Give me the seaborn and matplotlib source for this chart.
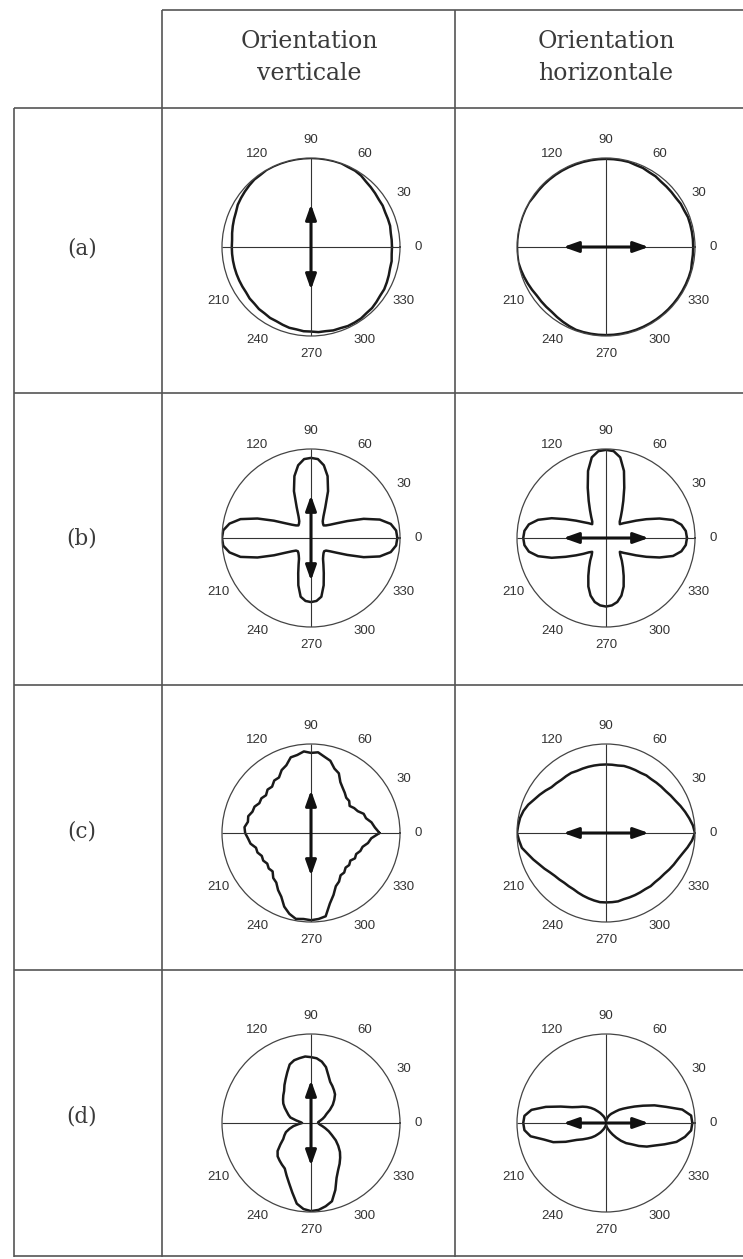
import numpy as np
import matplotlib
matplotlib.use("Agg")
import matplotlib.pyplot as plt
import seaborn as sns

# polar angle grid (degrees), one reading every 5 degrees
angles = np.arange(0, 360, 5)

# radial profiles (outer circle = 1)
r_a_vert = [0.91, 0.91, 0.91, 0.92, 0.92, 0.92, 0.93, 0.93, 0.94, 0.95, 0.96, 0.98,
            0.99, 0.99, 1.00, 1.00, 1.00, 1.00, 1.00, 1.00, 1.00, 1.00, 1.00, 1.00,
            1.00, 0.99, 0.99, 0.98, 0.97, 0.96, 0.95, 0.93, 0.92, 0.91, 0.90, 0.89,
            0.89, 0.89, 0.89, 0.89, 0.89, 0.89, 0.89, 0.89, 0.90, 0.90, 0.91, 0.91,
            0.92, 0.92, 0.93, 0.94, 0.94, 0.95, 0.95, 0.96, 0.96, 0.97, 0.97, 0.98,
            0.98, 0.98, 0.97, 0.97, 0.96, 0.95, 0.95, 0.94, 0.93, 0.92, 0.92, 0.91]
r_a_horiz = [0.98, 0.98, 0.98, 0.98, 0.98, 0.97, 0.97, 0.96, 0.96, 0.96, 0.96, 0.97,
             0.97, 0.98, 0.98, 0.99, 0.99, 0.99, 0.99, 0.99, 0.99, 0.99, 0.99, 0.99,
             0.99, 0.99, 0.99, 0.99, 0.99, 0.99, 1.00, 1.00, 1.00, 1.00, 1.00, 1.00,
             1.00, 1.00, 1.00, 0.99, 0.98, 0.97, 0.96, 0.95, 0.95, 0.95, 0.95, 0.96,
             0.97, 0.98, 0.99, 0.99, 0.99, 0.99, 0.99, 0.99, 0.99, 0.99, 0.99, 0.99,
             0.99, 0.99, 0.99, 0.99, 0.99, 0.99, 0.99, 0.99, 0.99, 0.99, 0.98, 0.98]
r_b_vert = [0.97, 0.96, 0.91, 0.80, 0.63, 0.45, 0.33, 0.26, 0.22, 0.20, 0.21, 0.23,
            0.28, 0.38, 0.56, 0.72, 0.83, 0.89, 0.90, 0.89, 0.83, 0.72, 0.56, 0.38,
            0.28, 0.23, 0.21, 0.20, 0.22, 0.26, 0.33, 0.46, 0.64, 0.82, 0.93, 0.99,
            1.00, 0.99, 0.93, 0.82, 0.64, 0.46, 0.33, 0.26, 0.22, 0.21, 0.22, 0.24,
            0.27, 0.33, 0.42, 0.55, 0.67, 0.71, 0.72, 0.71, 0.67, 0.55, 0.42, 0.33,
            0.27, 0.24, 0.22, 0.21, 0.22, 0.26, 0.33, 0.45, 0.63, 0.80, 0.91, 0.96]
r_b_horiz = [0.91, 0.90, 0.86, 0.78, 0.64, 0.50, 0.39, 0.31, 0.26, 0.22, 0.24, 0.29,
             0.36, 0.46, 0.60, 0.78, 0.92, 0.98, 0.99, 0.98, 0.92, 0.78, 0.60, 0.46,
             0.36, 0.29, 0.24, 0.22, 0.26, 0.31, 0.39, 0.50, 0.65, 0.79, 0.88, 0.92,
             0.93, 0.92, 0.88, 0.79, 0.65, 0.50, 0.39, 0.31, 0.25, 0.22, 0.25, 0.31,
             0.38, 0.47, 0.58, 0.67, 0.73, 0.76, 0.77, 0.76, 0.73, 0.67, 0.58, 0.47,
             0.38, 0.31, 0.25, 0.22, 0.26, 0.31, 0.39, 0.50, 0.64, 0.78, 0.86, 0.90]
r_c_vert = [0.77, 0.72, 0.69, 0.64, 0.63, 0.58, 0.56, 0.53, 0.56, 0.56, 0.59, 0.62,
            0.66, 0.74, 0.77, 0.84, 0.87, 0.91, 0.90, 0.92, 0.89, 0.88, 0.81, 0.78,
            0.72, 0.72, 0.68, 0.69, 0.66, 0.68, 0.67, 0.70, 0.70, 0.73, 0.72, 0.75,
            0.74, 0.71, 0.69, 0.64, 0.64, 0.61, 0.62, 0.60, 0.62, 0.61, 0.66, 0.68,
            0.74, 0.79, 0.88, 0.94, 0.98, 0.97, 0.98, 0.97, 0.95, 0.82, 0.74, 0.66,
            0.63, 0.58, 0.58, 0.55, 0.56, 0.54, 0.57, 0.56, 0.59, 0.60, 0.65, 0.68]
r_c_horiz = [1.00, 0.98, 0.95, 0.92, 0.89, 0.86, 0.84, 0.82, 0.81, 0.80, 0.79, 0.79,
             0.78, 0.78, 0.78, 0.78, 0.77, 0.77, 0.77, 0.77, 0.77, 0.77, 0.77, 0.77,
             0.78, 0.78, 0.78, 0.79, 0.80, 0.83, 0.86, 0.89, 0.93, 0.96, 0.98, 0.99,
             1.00, 0.98, 0.96, 0.91, 0.87, 0.83, 0.80, 0.77, 0.75, 0.74, 0.73, 0.73,
             0.73, 0.74, 0.75, 0.76, 0.77, 0.78, 0.78, 0.78, 0.78, 0.77, 0.77, 0.77,
             0.77, 0.77, 0.78, 0.78, 0.79, 0.80, 0.82, 0.84, 0.86, 0.89, 0.93, 0.97]
r_d_vert = [0.08, 0.08, 0.09, 0.11, 0.14, 0.17, 0.20, 0.26, 0.32, 0.37, 0.42, 0.45,
            0.48, 0.51, 0.57, 0.65, 0.70, 0.73, 0.74, 0.75, 0.74, 0.73, 0.70, 0.63,
            0.57, 0.52, 0.47, 0.44, 0.41, 0.38, 0.34, 0.30, 0.27, 0.24, 0.17, 0.12,
            0.10, 0.14, 0.20, 0.25, 0.30, 0.33, 0.36, 0.42, 0.49, 0.53, 0.55, 0.57,
            0.59, 0.65, 0.72, 0.81, 0.92, 0.97, 0.99, 0.98, 0.95, 0.91, 0.80, 0.68,
            0.61, 0.56, 0.51, 0.46, 0.40, 0.34, 0.27, 0.22, 0.17, 0.13, 0.10, 0.09]
r_d_horiz = [0.97, 0.96, 0.87, 0.70, 0.58, 0.46, 0.37, 0.30, 0.25, 0.21, 0.17, 0.14,
             0.12, 0.10, 0.08, 0.06, 0.04, 0.03, 0.02, 0.03, 0.04, 0.06, 0.08, 0.10,
             0.13, 0.16, 0.20, 0.24, 0.28, 0.32, 0.36, 0.42, 0.54, 0.70, 0.85, 0.92,
             0.93, 0.92, 0.86, 0.72, 0.63, 0.50, 0.38, 0.32, 0.27, 0.23, 0.19, 0.15,
             0.12, 0.09, 0.07, 0.05, 0.04, 0.03, 0.02, 0.03, 0.04, 0.06, 0.08, 0.11,
             0.15, 0.20, 0.26, 0.32, 0.37, 0.45, 0.53, 0.60, 0.70, 0.82, 0.90, 0.96]

tick_deg = [0, 30, 60, 90, 120, 150, 180, 210, 240, 270, 300, 330]
tick_labels = ["0", "30", "60", "90", "120", "", "", "210", "240", "270", "300", "330"]
col_titles = ["Orientation\nverticale", "Orientation\nhorizontale"]
row_labels = ["(a)", "(b)", "(c)", "(d)"]

profiles = [[r_a_vert, r_a_horiz],
            [r_b_vert, r_b_horiz],
            [r_c_vert, r_c_horiz],
            [r_d_vert, r_d_horiz]]

sns.set_style("white")
plt.rcParams["font.family"] = ["Liberation Sans", "DejaVu Sans"]

W, H = 743, 1259
fig = plt.figure(figsize=(W / 100, H / 100), dpi=100)

# background axes in pixel units for the table frame and labels
bg = fig.add_axes([0, 0, 1, 1])
bg.set_xlim(0, W)
bg.set_ylim(H, 0)
bg.axis("off")

grid_kw = dict(color="#555555", lw=1.2, solid_capstyle="butt")
bg.plot([162, W], [10, 10], **grid_kw)
for x in (162, 455):
    bg.plot([x, x], [10, 1257], **grid_kw)
bg.plot([14, 14], [108, 1257], **grid_kw)
for y in (108, 393, 685, 970, 1256):
    bg.plot([14, W], [y, y], **grid_kw)

for title, x in zip(col_titles, (309, 606)):
    bg.text(x, 57, title, ha="center", va="center", fontsize=17,
            family="DejaVu Serif", color="#3a3a3a", linespacing=1.5)

for lab, y in zip(row_labels, (248, 538, 831, 1116)):
    bg.text(82, y, lab, ha="center", va="center", fontsize=15.5,
            family="DejaVu Serif", color="#3a3a3a")

# polar panels
col_x = [311, 606]
row_y = [247, 538, 833, 1123]
R = 89
theta = np.deg2rad(np.append(angles, 360))

for i, cy in enumerate(row_y):
    for j, cx in enumerate(col_x):
        ax = fig.add_axes([(cx - R) / W, 1 - (cy + R) / H, 2 * R / W, 2 * R / H],
                          projection="polar")
        ax.patch.set_alpha(0)
        vals = profiles[i][j]
        rr = np.append(vals, vals[0])
        sns.lineplot(x=theta, y=rr, ax=ax, sort=False, estimator=None,
                     color="#1a1a1a", lw=1.8)
        ax.set_ylim(0, 1)
        ax.set_yticks([])
        ax.grid(False)
        ax.set_xticks(np.deg2rad(tick_deg))
        ax.set_xticklabels(tick_labels)
        ax.tick_params(axis="x", length=0, pad=6, labelsize=9.5, colors="#333333")
        ax.vlines(np.deg2rad([0, 90, 180, 270]), 0, 1, color="#333333", lw=0.8)
        ax.spines["polar"].set_color("#444444")
        ax.spines["polar"].set_linewidth(0.9)
        ax.set_xlabel("")
        ax.set_ylabel("")

        # double arrow showing the orientation
        if j == 0:
            a, b = np.pi / 2, 3 * np.pi / 2
        else:
            a, b = 0, np.pi
        ax.annotate("", xy=(a, 0.48), xytext=(b, 0.48),
                    arrowprops=dict(arrowstyle="<|-|>,head_length=0.9,head_width=0.32",
                                    color="#111111", lw=2.2, shrinkA=0, shrinkB=0))

fig.savefig("out.png", dpi=100, facecolor="white")
